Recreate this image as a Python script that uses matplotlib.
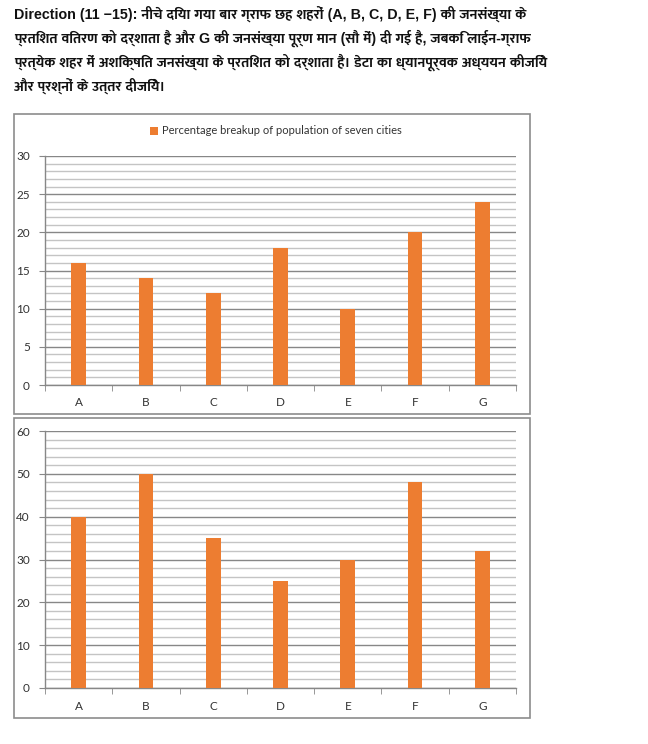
import matplotlib
matplotlib.use('Agg')
import matplotlib.pyplot as plt
from matplotlib.patches import Rectangle
from matplotlib.ticker import MultipleLocator, FixedLocator

cities = ['A', 'B', 'C', 'D', 'E', 'F', 'G']
population_pct = [16, 14, 12, 18, 10, 20, 24]
illiterate_pct = [40, 50, 35, 25, 30, 48, 32]
legend_label = 'Percentage breakup of population of seven cities'

title_lines = [
    'Direction (11 \u221215): नीचे दिया गया बार ग्राफ छह शहरों (A, B, C, D, E, F) की जनसंख्या के',
    'प्रतिशत वितरण को दर्शाता है और G की जनसंख्या पूर्ण मान (सौ में) दी गई है, जबकि लाईन-ग्राफ',
    'प्रत्येक शहर में अशिक्षित जनसंख्या के प्रतिशत को दर्शाता है। डेटा का ध्यानपूर्वक अध्ययन कीजिये',
    'और प्रश्नों के उत्तर दीजिये।',
]

W, H = 648, 744
bar_color = '#ED7D31'
major_grid = '#878787'
minor_grid = '#C4C4C4'
axis_color = '#878787'
tick_font = ['Lato', 'DejaVu Sans']
hindi_font = ['Liberation Sans Narrow', 'Liberation Sans', 'Ek Mukta', 'FreeSans', 'DejaVu Sans']

fig = plt.figure(figsize=(W / 100, H / 100), dpi=100)

# heading text
for i, line in enumerate(title_lines):
    fig.text(14 / W, 1 - (14 + 24 * i) / H, line, fontsize=10.3, fontweight='bold',
             family=hindi_font, va='center', ha='left', color='#111111')


def fx(px):
    return px / W


def fy(py):
    return 1 - py / H


def draw_chart(box_top, box_bot, ax_top, ax_bot, values, ymax, major, minor, legend):
    # frame around chart
    fig.patches.append(Rectangle((fx(14), fy(box_bot)), fx(530) - fx(14), fy(box_top) - fy(box_bot),
                                 transform=fig.transFigure, fill=False, edgecolor='#8c8c8c', lw=1.2))
    ax = fig.add_axes([fx(45), fy(ax_bot), fx(516) - fx(45), fy(ax_top) - fy(ax_bot)])
    x = list(range(len(cities)))
    bars = ax.bar(x, values, width=0.22, color=bar_color, zorder=3, label=legend_label)
    ax.set_xlim(-0.5, len(cities) - 0.5)
    ax.set_ylim(0, ymax)
    ax.yaxis.set_major_locator(MultipleLocator(major))
    ax.yaxis.set_minor_locator(MultipleLocator(minor))
    ax.grid(which='major', axis='y', color=major_grid, lw=1.0, zorder=1)
    ax.grid(which='minor', axis='y', color=minor_grid, lw=1.0, zorder=0)
    for s in ['top', 'right']:
        ax.spines[s].set_visible(False)
    for s in ['left', 'bottom']:
        ax.spines[s].set_color(axis_color)
        ax.spines[s].set_linewidth(1.0)
    ax.set_xticks(x)
    ax.set_xticklabels(cities)
    ax.xaxis.set_minor_locator(FixedLocator([i - 0.5 for i in range(len(cities) + 1)]))
    ax.tick_params(axis='x', which='major', length=0, pad=9, labelsize=8.5, labelcolor='#333333')
    ax.tick_params(axis='x', which='minor', length=4, color=axis_color, direction='out')
    ax.tick_params(axis='y', which='major', length=4, color=axis_color, pad=7,
                   labelsize=8.5, labelcolor='#333333')
    ax.tick_params(axis='y', which='minor', length=0)
    for lab in ax.get_xticklabels() + ax.get_yticklabels():
        lab.set_family(tick_font)
    if legend:
        fig.legend(handles=[bars], loc='center', bbox_to_anchor=(fx(276), fy(131)),
                   frameon=False, handlelength=0.7, handleheight=0.7,
                   handletextpad=0.4, prop={'family': tick_font, 'size': 8},
                   labelcolor='#333333')
    return ax


draw_chart(114, 414, 156, 385, population_pct, 30, 5, 1, True)
draw_chart(418, 718, 431, 688, illiterate_pct, 60, 10, 2, False)

fig.savefig('out.png', dpi=100)
